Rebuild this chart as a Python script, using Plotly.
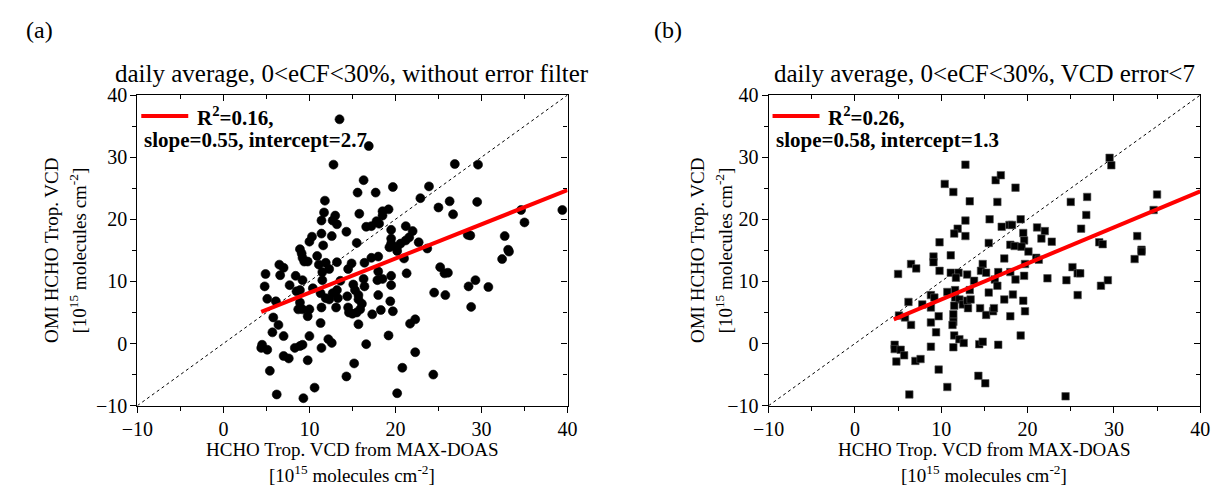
import plotly.graph_objects as go

# ---------------- data: panel (a) daily average, without error filter ----------------
xa = [13.5, 12.8, 11.8, 11.7, 13.0, 11.4, 12.7, 13.2, 14.3, 11.4, 12.6, 10.3, 10.0, 11.6, 8.9,
      16.9, 26.9, 29.6, 16.3, 15.6, 17.7, 19.7, 23.9, 22.9, 26.3, 25.0, 29.5, 26.7, 15.8, 18.5,
      19.2, 18.5, 16.6, 17.2, 17.8, 18.1, 19.5, 21.2, 22.0, 21.6, 21.2, 20.6, 20.2, 19.5, 19.5,
      19.3, 15.5, 22.7, 28.4, 28.7, 32.7, 34.6, 35.0, 39.4, 33.1, 23.7,
      9.1, 9.2, 9.4, 9.8, 10.9, 6.5, 7.0, 4.9, 6.6, 8.4, 11.1, 11.5, 11.9, 12.3, 13.2, 14.5,
      9.2, 11.5, 4.8, 7.7, 8.5, 8.9, 10.4, 11.3, 11.9, 12.3, 12.7, 13.2, 13.3, 5.1, 6.1, 14.4,
      8.9, 8.7, 9.2, 10.0, 11.4, 13.1, 9.8, 5.8, 6.4, 11.3, 5.7, 7.0, 10.0, 12.2, 12.6, 4.5,
      4.4, 5.1, 8.3, 8.9, 9.2, 11.4, 7.0, 7.6, 9.8, 5.4, 14.3, 10.6, 6.2, 9.3,
      20.2, 21.0, 32.4, 33.2, 14.9, 16.4, 17.2, 18.0, 25.2, 25.7, 26.1, 21.3, 18.0, 19.5, 16.3,
      17.9, 18.5, 13.6, 15.1, 16.4, 19.5, 15.3, 15.7, 18.0, 24.5, 25.8, 28.5, 29.3, 30.8, 28.8,
      19.4, 15.7, 16.1, 15.9, 15.5, 14.5, 14.6, 15.0, 18.3, 19.7, 17.3, 15.7, 21.7, 22.3, 19.2,
      16.6, 22.3, 15.2, 20.8, 24.4, 20.2]
ya = [36.1, 28.8, 23.0, 21.1, 20.6, 19.8, 19.8, 19.2, 18.0, 17.7, 17.3, 17.2, 16.4, 15.8, 15.2,
      31.8, 28.9, 28.8, 26.3, 24.3, 24.3, 25.2, 25.3, 23.4, 22.9, 21.9, 22.8, 20.8, 20.9, 21.3,
      21.6, 20.6, 18.8, 18.9, 19.7, 19.3, 18.3, 18.9, 18.1, 17.1, 16.6, 16.1, 15.6, 16.9, 16.1,
      15.5, 16.2, 16.3, 17.5, 17.4, 17.3, 21.5, 19.5, 21.5, 15.1, 15.3,
      14.5, 13.8, 13.2, 13.2, 14.1, 12.7, 12.2, 11.2, 11.0, 10.9, 12.7, 11.5, 13.0, 12.0, 13.1, 12.0,
      10.2, 10.2, 9.2, 9.4, 8.4, 8.6, 8.9, 8.1, 7.3, 7.1, 8.1, 8.6, 7.3, 7.2, 6.8, 7.6,
      6.6, 5.5, 5.5, 5.5, 5.8, 5.8, 4.4, 4.2, 3.0, 3.3, 1.8, 1.2, 1.2, 0.7, 0.1, -0.2,
      -0.7, -1.0, -0.7, -0.4, -0.2, -0.7, -2.0, -2.4, -2.7, -4.4, -5.3, -7.1, -8.2, -8.8,
      14.9, 13.7, 13.6, 14.8, 12.9, 13.0, 13.8, 14.0, 12.3, 11.3, 11.4, 11.3, 11.6, 10.9, 10.4,
      10.2, 10.4, 10.1, 9.5, 9.2, 9.4, 8.6, 7.8, 7.8, 8.2, 7.8, 9.2, 10.2, 9.1, 5.9,
      6.8, 7.1, 6.4, 5.5, 5.0, 5.8, 5.0, 4.8, 5.4, 5.2, 4.7, 3.1, 3.2, 3.9, 1.3,
      -0.1, -1.4, -3.2, -3.9, -5.0, -8.0]

# ---------------- data: panel (b) daily average, VCD error < 7 ----------------
xb = [12.8, 10.4, 11.4, 13.3, 12.8, 11.9, 11.5, 12.8, 9.8, 29.5, 29.7, 16.3, 16.9, 18.6, 16.5,
      25.0, 26.9, 26.8, 35.0, 34.6, 15.6, 19.2, 17.0, 17.9, 18.2, 19.5, 21.1, 22.0, 21.6, 22.8,
      26.2, 15.5, 19.6, 18.0, 18.5, 19.3, 28.3, 28.7, 32.7, 33.2, 9.1, 9.1, 11.1, 6.5, 7.1,
      9.8, 5.0, 11.1, 12.0, 11.7, 13.0, 13.8, 14.8, 14.6, 15.2, 10.7, 11.6, 11.6, 13.3, 8.8,
      9.2, 8.8, 6.2, 7.8, 12.1, 12.5, 13.0, 13.4, 13.1, 11.5, 14.5, 5.1, 5.8, 9.7, 6.5,
      8.8, 11.4, 11.4, 11.3, 9.4, 11.5, 12.1, 12.6, 14.4, 14.8, 4.6, 4.6, 5.3, 5.7, 8.8,
      11.4, 4.8, 7.0, 7.6, 9.7, 14.3, 15.1, 10.7, 6.3, 20.1, 21.0, 21.3, 32.4, 33.2, 17.3,
      16.6, 18.0, 19.7, 19.6, 18.6, 16.2, 16.5, 15.5, 18.3, 17.3, 19.5, 22.3, 24.5, 25.2, 25.8,
      26.1, 25.8, 28.5, 29.3, 15.2, 16.0, 16.1, 18.0, 19.7, 19.2, 16.6, 24.4]
yb = [28.8, 25.7, 24.4, 22.9, 19.8, 18.5, 17.7, 17.3, 16.3, 29.9, 28.7, 26.3, 27.1, 25.1, 22.8,
      22.8, 23.6, 20.7, 24.0, 21.5, 20.0, 20.0, 18.8, 19.1, 19.1, 17.8, 18.7, 18.1, 16.9, 16.4,
      18.5, 16.2, 16.6, 15.9, 15.7, 15.6, 16.3, 16.0, 17.3, 15.1, 14.0, 13.1, 14.2, 12.8, 12.1,
      11.7, 11.2, 11.4, 11.4, 10.6, 11.1, 10.1, 12.8, 11.7, 11.4, 8.3, 8.6, 7.4, 8.6, 7.8,
      7.4, 5.8, 6.7, 6.3, 7.1, 6.3, 6.9, 7.1, 5.7, 6.1, 5.7, 4.5, 4.2, 4.4, 3.0,
      3.4, 4.7, 3.5, 3.0, 1.8, 1.3, 0.7, 0.1, -0.1, 0.3, -0.2, -0.9, -1.0, -1.9, -0.5,
      -0.6, -2.9, -2.8, -2.5, -4.2, -5.2, -6.4, -7.0, -8.2, 14.8, 13.8, 13.5, 13.6, 14.8, 13.7,
      11.5, 11.5, 12.8, 10.9, 10.3, 10.3, 9.3, 8.2, 7.9, 7.1, 6.9, 10.5, 10.2, 12.3, 11.3,
      11.3, 7.8, 9.3, 10.2, 4.6, 5.2, 5.7, 4.4, 5.2, 1.3, -0.2, -8.5]

# linear fits (end points) and 1:1 line
fit_a_x = [4.4, 40.0]
fit_a_y = [5.1, 24.7]
fit_b_x = [4.5, 40.0]
fit_b_y = [3.9, 24.5]
one_to_one = [-10, 40]

legend_a = ["R<sup>2</sup>=0.16,", "slope=0.55, intercept=2.7"]
legend_b = ["R<sup>2</sup>=0.26,", "slope=0.58, intercept=1.3"]
titles = ["daily average, 0&lt;eCF&lt;30%, without error filter",
          "daily average, 0&lt;eCF&lt;30%, VCD error&lt;7"]
panel_labels = ["(a)", "(b)"]
xtitle = ["HCHO Trop. VCD from MAX-DOAS", "[10<sup>15</sup> molecules cm<sup>-2</sup>]"]
ytitle = ["OMI HCHO Trop. VCD", "[10<sup>15</sup> molecules cm<sup>-2</sup>]"]
axis_range = [-10, 40]

W, H = 1221, 495
FONT = "Liberation Serif"


def px(x):
    return x / W


def py(y):
    return 1 - y / H


dom_x = [[px(124), px(563.5)], [px(769), px(1210)]]
dom_y = [py(413), py(88)]

fig = go.Figure()

panels = [(xa, ya, fit_a_x, fit_a_y, "circle", 9), (xb, yb, fit_b_x, fit_b_y, "square", 7.5)]
for i, (xs, ys, fx, fy, sym, msize) in enumerate(panels):
    xr = "x" if i == 0 else "x2"
    yr = "y" if i == 0 else "y2"
    fig.add_trace(go.Scatter(x=one_to_one, y=one_to_one, mode="lines",
                             line=dict(color="black", width=1, dash="dot"),
                             xaxis=xr, yaxis=yr, showlegend=False, hoverinfo="skip"))
    fig.add_trace(go.Scatter(x=xs, y=ys, mode="markers",
                             marker=dict(symbol=sym, size=msize, color="black",
                                         line=dict(width=0.6, color="#555" if sym == "square" else "black")),
                             xaxis=xr, yaxis=yr, showlegend=False))
    fig.add_trace(go.Scatter(x=fx, y=fy, mode="lines", line=dict(color="#ff0000", width=4),
                             xaxis=xr, yaxis=yr, showlegend=False))
    # dummy trace for inward mirror ticks (top/right)
    fig.add_trace(go.Scatter(x=[None], y=[None], xaxis="x%d" % (3 + 2 * i), yaxis="y%d" % (3 + 2 * i),
                             showlegend=False, hoverinfo="skip"))

base_axis = dict(range=axis_range, showgrid=False, zeroline=False, showline=True,
                 linecolor="black", linewidth=1.2, ticks="outside", ticklen=6, tickwidth=1.2,
                 tickcolor="black", dtick=10, tick0=0, ticklabelstandoff=-1,
                 minor=dict(ticks="outside", ticklen=4, dtick=5, tickcolor="black", tickwidth=1.2, showgrid=False),
                 tickfont=dict(family=FONT, size=20, color="black"))
inner_axis = dict(range=axis_range, showgrid=False, zeroline=False, showline=True,
                  linecolor="black", linewidth=1.2, ticks="inside", ticklen=6, tickwidth=1.2,
                  tickcolor="black", dtick=10, tick0=0, showticklabels=False,
                  minor=dict(ticks="inside", ticklen=4, dtick=5, tickcolor="black", tickwidth=1.2, showgrid=False))

layout = dict(width=W, height=H, margin=dict(l=0, r=0, t=0, b=0),
              paper_bgcolor="white", plot_bgcolor="white", showlegend=False,
              font=dict(family=FONT, color="black"))
for i in range(2):
    s = "" if i == 0 else "2"
    layout["xaxis" + s] = dict(base_axis, domain=dom_x[i], anchor="y" + s)
    layout["yaxis" + s] = dict(base_axis, domain=dom_y, anchor="x" + s)
    k = 3 + 2 * i
    main_x = "x" if i == 0 else "x2"
    main_y = "y" if i == 0 else "y2"
    layout["xaxis%d" % k] = dict(inner_axis, overlaying=main_x, side="top", anchor="y%d" % k)
    layout["yaxis%d" % k] = dict(inner_axis, overlaying=main_y, side="right", anchor="x%d" % k)

fig.update_layout(**layout)

ann = []
txt = dict(family=FONT, color="black")
centers_x = [343.5, 989.5]
for i in range(2):
    # panel label
    ann.append(dict(text=panel_labels[i], x=px([8, 650][i]), y=py(20), xanchor="left", yanchor="middle",
                    xref="paper", yref="paper", showarrow=False, font=dict(txt, size=24)))
    # title
    ann.append(dict(text=titles[i], x=px(centers_x[i]), y=py(65), xanchor="center", yanchor="middle",
                    xref="paper", yref="paper", showarrow=False, font=dict(txt, size=25)))
    # x title
    ann.append(dict(text=xtitle[0], x=px(centers_x[i]), y=py(459), xanchor="center", yanchor="middle",
                    xref="paper", yref="paper", showarrow=False, font=dict(txt, size=19)))
    ann.append(dict(text=xtitle[1], x=px(centers_x[i]), y=py(485), xanchor="center", yanchor="middle",
                    xref="paper", yref="paper", showarrow=False, font=dict(txt, size=19)))
    # y title
    yx = [[37, 63], [697, 723]][i]
    ann.append(dict(text=ytitle[0], x=px(yx[0]), y=py(251), xanchor="center", yanchor="middle",
                    textangle=-90, xref="paper", yref="paper", showarrow=False, font=dict(txt, size=19)))
    ann.append(dict(text=ytitle[1], x=px(yx[1]), y=py(251), xanchor="center", yanchor="middle",
                    textangle=-90, xref="paper", yref="paper", showarrow=False, font=dict(txt, size=19)))
    # legend
    leg = [legend_a, legend_b][i]
    lx0 = [128, 773][i]
    ann.append(dict(text="<b>" + leg[0] + "</b>", x=px(lx0 + 55), y=py(110), xanchor="left",
                    yanchor="middle", xref="paper", yref="paper", showarrow=False, font=dict(txt, size=21)))
    ann.append(dict(text="<b>" + leg[1] + "</b>", x=px(lx0 + 1), y=py(135), xanchor="left",
                    yanchor="middle", xref="paper", yref="paper", showarrow=False, font=dict(txt, size=21)))

fig.update_layout(annotations=ann)

# legend line samples
for i in range(2):
    lx0 = [128, 773][i]
    fig.add_shape(type="line", xref="paper", yref="paper", x0=px(lx0), x1=px(lx0 + 48),
                  y0=py(110), y1=py(110), line=dict(color="#ff0000", width=4))

fig.write_html("out.html", config={"displayModeBar": False},
               post_script="document.body.style.margin='0px';document.body.style.overflow='hidden';")
